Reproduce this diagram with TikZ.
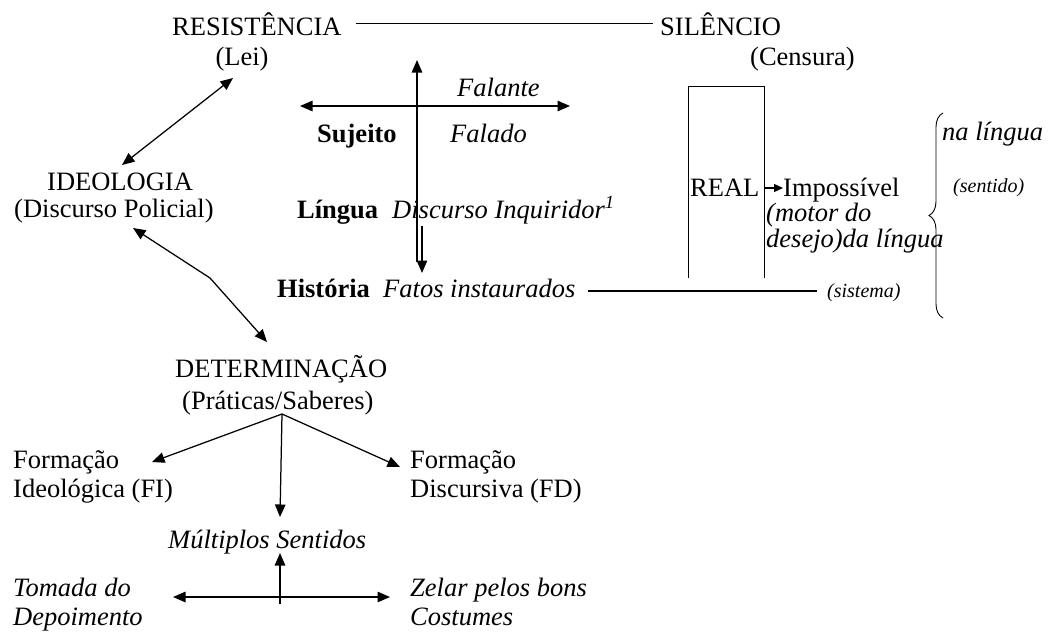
\documentclass[tikz,border=0pt]{standalone}
\usepackage{fontspec}
\setmainfont{Liberation Serif}
\usetikzlibrary{arrows.meta,decorations.pathreplacing}
\begin{document}
\begin{tikzpicture}[x=1pt,y=-1pt,
  t/.style={inner sep=0pt, font=\fontsize{26.5}{30}\selectfont},
  tw/.style={t, anchor=base west},
  tc/.style={t, anchor=base},
  ti/.style={tw, font=\fontsize{26.5}{30}\selectfont\itshape},
  tb/.style={tw, font=\fontsize{26.5}{30}\selectfont\bfseries},
  small/.style={inner sep=0pt, anchor=base west, font=\fontsize{20}{24}\selectfont\itshape},
  con/.style={line width=1.25pt},
  tip/.tip={Triangle[length=12.5pt,width=10.5pt]},
  arr/.style={con, -tip},
  darr/.style={con, tip-tip},
]
\useasboundingbox (0,0) rectangle (1058,632);

% top row
\node[tw] (res) at (172,35) {RESISTÊNCIA};
\node[tc] (lei) at (242,65) {(Lei)};
\node[tw] (sil) at (660,35) {SILÊNCIO};
\node[tw] (cens) at (750,65) {(Censura)};

% left column
\node[tw] (ideo) at (47,190) {IDEOLOGIA};
\node[tw] (pol) at (14,217) {(Discurso Policial)};
\node[tw] (det) at (175,377) {DETERMINAÇÃO};
\node[tw] (prat) at (182,409) {(Práticas/Saberes)};
\node[tw] (fi1) at (13,468) {Formação};
\node[tw] (fi2) at (13,497) {Ideológica (FI)};
\node[tw] (fd1) at (410,468) {Formação};
\node[tw] (fd2) at (410,497) {Discursiva (FD)};
\node[ti] (mult) at (168,548) {Múltiplos Sentidos};
\node[ti] (tom1) at (13,596) {Tomada do};
\node[ti] (tom2) at (13,625) {Depoimento};
\node[ti] (zel1) at (410,596) {Zelar pelos bons};
\node[ti] (zel2) at (410,625) {Costumes};

% centre cross
\node[ti] (fal) at (457,96) {Falante};
\node[tb] (suj) at (317,142) {Sujeito};
\node[ti] (fald) at (450,142) {Falado};
\node[tb] (ling) at (297,218) {Língua};
\node[ti] (disc) at (392,218) {Discurso Inquiridor\textsuperscript{1}};
\node[tb] (hist) at (277,297) {História};
\node[ti] (fatos) at (383,297) {Fatos instaurados};

% right part
\node[tw] (real) at (690,196) {REAL};
\node[tw] (imp) at (783,196) {Impossível};
\node[ti] (mot1) at (766,221) {(motor do};
\node[ti] (mot2) at (766,247) {desejo)da língua};
\node[ti] (nal) at (942,140) {na língua};
\node[small] (sent) at (953,192) {(sentido)};
\node[small] (sist) at (827,297) {(sistema)};

% coordinates for connector ends
\coordinate (leiA) at (233,78);
\coordinate (ideoA) at (122,165);
\coordinate (polA) at (133,228);
\coordinate (kink) at (210,278);
\coordinate (detA) at (267,342);
\coordinate (br) at (282,414);
\coordinate (fiA) at (152,462);
\coordinate (fdA) at (400,467);
\coordinate (multA) at (280,517);
\coordinate (multB) at (280,553);
\coordinate (hmid) at (280,597);
\coordinate (hl) at (173,597);
\coordinate (hr) at (390,597);
\coordinate (vtop) at (417,60);
\coordinate (vbot) at (417,262);
\coordinate (v2a) at (422,226);
\coordinate (v2b) at (422,273);
\coordinate (hL) at (300,106);
\coordinate (hR) at (570,106);
\coordinate (sysEnd) at (817,291);

% connectors
\draw[con] ([xshift=14pt]res.east) -- ([xshift=-7pt]sil.west);
\draw[darr] (ideoA) -- (leiA);
\draw[darr] (polA) -- (kink) -- (detA);
\draw[arr] (br) -- (fiA);
\draw[arr] (br) -- (fdA);
\draw[arr] (br) -- (multA);
\draw[darr] (hl) -- (hr);
\draw[arr] ([yshift=-7pt]hmid) -- (multB);
\draw[arr] (vbot) -- (vtop);
\draw[arr] (v2a) -- (v2b);
\draw[darr] (hL) -- (hR);
\draw[con] ([xshift=12pt]fatos.east |- sysEnd) -- (sysEnd);
\draw[line width=1pt] (688,278) |- (764,86) -- (764,278);
\draw[con,-{Triangle[length=9pt,width=8pt]}] (real.east |- 0,188) ++(4pt,0) -- (imp.west |- 0,188);
\draw[line width=0.9pt, decorate, decoration={brace, amplitude=14pt}] (943,318) -- (943,113);
\end{tikzpicture}
\end{document}
